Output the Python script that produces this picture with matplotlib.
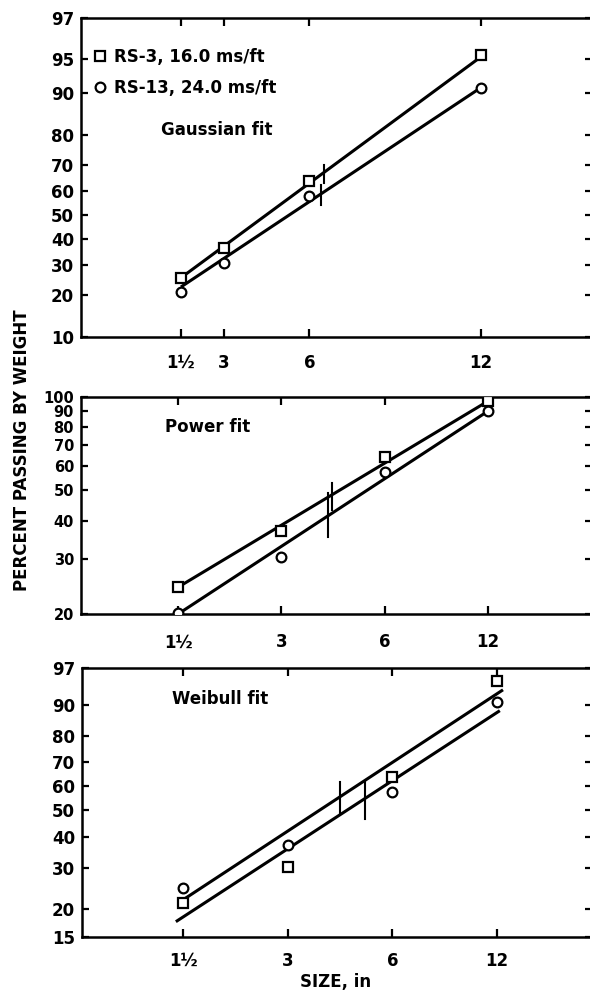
from statistics import NormalDist
import numpy as np
import matplotlib
matplotlib.use('Agg')
import matplotlib.pyplot as plt
from matplotlib.ticker import FixedLocator, NullLocator

plt.rcParams['font.family'] = ['DejaVu Sans']
plt.rcParams['font.weight'] = 'bold'

FS = 12

# sizes (in) and their labels
sizes = [1.5, 3, 6, 12]
size_labels = ['1½', '3', '6', '12']

# percent passing
gauss_rs3 = [25.5, 36.5, 64.0, 95.4]
gauss_rs13 = [21.0, 30.7, 58.0, 91.0]
power_rs3 = [24.4, 36.9, 64.2, 96.8]
power_rs13 = [20.2, 30.6, 57.5, 90.3]
weib_rs3 = [21.2, 30.2, 63.7, 95.2]
weib_rs13 = [24.7, 37.1, 57.4, 90.8]

# fitted lines: (x ends, y ends)
gauss_fit_rs3 = ([1.5, 12], [25.5, 95.2])
gauss_fit_rs13 = ([1.5, 12], [22.5, 91.0])
power_fit_rs3 = ([1.5, 12], [24.4, 97.0])
power_fit_rs13 = ([1.5, 12], [20.0, 90.1])
weib_fit_a = ([1.52, 12.48], [22.3, 93.5])
weib_fit_b = ([1.43, 12.22], [17.6, 88.4])

# short vertical marks on the fit lines: x, y low, y high
gauss_marks = ([6.5, 6.4], [63.4, 54.4], [70.3, 62.6])
power_marks = ([4.2, 4.1], [43.3, 35.4], [52.9, 49.1])
weib_marks = ([4.25, 5.02], [48.7, 46.4], [61.6, 61.6])

gauss_yticks = [10, 20, 30, 40, 50, 60, 70, 80, 90, 95]
power_yticks = [20, 30, 40, 50, 60, 70, 80, 90, 100]
weib_yticks = [15, 20, 30, 40, 50, 60, 70, 80, 90, 97]

ND = NormalDist()
_ppf = np.vectorize(ND.inv_cdf, otypes=[float])
_cdf = np.vectorize(ND.cdf, otypes=[float])


def norm_fwd(p):
    p = np.clip(np.asarray(p, float) / 100, 1e-9, 1 - 1e-9)
    return _ppf(p)


def norm_inv(z):
    return _cdf(np.asarray(z, float)) * 100


def weib_fwd(p):
    p = np.clip(np.asarray(p, float) / 100, 1e-9, 1 - 1e-9)
    return np.log(-np.log(1 - p))


def weib_inv(y):
    return (1 - np.exp(-np.exp(np.asarray(y, float)))) * 100


def style_axes(ax, pad_x, ysize=FS):
    for s in ax.spines.values():
        s.set_linewidth(1.8)
    ax.tick_params(axis='x', which='major', direction='in', length=6,
                   width=1.6, top=True, bottom=True, labelsize=FS,
                   pad=pad_x)
    ax.tick_params(axis='y', which='major', direction='in', length=5,
                   width=1.6, left=True, right=True, labelsize=ysize, pad=5)
    ax.tick_params(which='minor', left=False, right=False,
                   top=False, bottom=False)


def draw_panel(ax, rs3, rs13, fits, marks):
    for fx, fy in fits:
        ax.plot(fx, fy, color='black', lw=2.2, solid_capstyle='butt',
                zorder=2)
    for mx, lo, hi in zip(*marks):
        ax.plot([mx, mx], [lo, hi], color='black', lw=1.5, zorder=2)
    ax.plot(sizes, rs3, ls='none', marker='s', ms=6.5, mfc='white',
            mec='black', mew=1.6, zorder=3, label='RS-3, 16.0 ms/ft')
    ax.plot(sizes, rs13, ls='none', marker='o', ms=7, mfc='white',
            mec='black', mew=1.6, zorder=3, label='RS-13, 24.0 ms/ft')


fig = plt.figure(figsize=(5.9, 9.98), dpi=100)

# Gaussian fit: linear size vs normal probability
ax1 = fig.add_axes([81 / 590, 1 - 337 / 998, 511 / 590, 319 / 998])
ax1.set_yscale('function', functions=(norm_fwd, norm_inv))
draw_panel(ax1, gauss_rs3, gauss_rs13,
           [gauss_fit_rs3, gauss_fit_rs13], gauss_marks)
ax1.set_xlim(-2.0, 15.9)
ax1.set_ylim(10, 98.1)
ax1.yaxis.set_major_locator(FixedLocator(gauss_yticks + [98.1]))
ax1.set_yticklabels([str(v) for v in gauss_yticks] + ['97'])
ax1.yaxis.set_minor_locator(NullLocator())
ax1.set_xticks(sizes)
ax1.set_xticklabels(size_labels)
style_axes(ax1, 12)
ax1.text(0.266, 0.649, 'Gaussian fit', transform=ax1.transAxes,
         fontsize=FS, ha='center', va='center')
ax1.legend(loc='upper left', bbox_to_anchor=(0.008, 0.938), frameon=False,
           fontsize=FS, handlelength=0.6, handletextpad=0.55,
           labelspacing=0.8, borderaxespad=0.2)

# Power fit: log size vs log percent
ax2 = fig.add_axes([81 / 590, 1 - 614 / 998, 511 / 590, 217 / 998])
ax2.set_xscale('log')
ax2.set_yscale('log')
draw_panel(ax2, power_rs3, power_rs13,
           [power_fit_rs3, power_fit_rs13], power_marks)
ax2.set_xlim(0.782, 24.1)
ax2.set_ylim(20, 100)
ax2.xaxis.set_major_locator(FixedLocator(sizes))
ax2.xaxis.set_minor_locator(NullLocator())
ax2.set_xticklabels(size_labels)
ax2.yaxis.set_major_locator(FixedLocator(power_yticks))
ax2.yaxis.set_minor_locator(NullLocator())
ax2.set_yticklabels([str(v) for v in power_yticks])
style_axes(ax2, 14, ysize=10.5)
ax2.text(0.247, 0.862, 'Power fit', transform=ax2.transAxes,
         fontsize=FS, ha='center', va='center')

# Weibull fit: log size vs log(-log(1-P))
ax3 = fig.add_axes([82 / 590, 1 - 937 / 998, 510 / 590, 269 / 998])
ax3.set_xscale('log')
ax3.set_yscale('function', functions=(weib_fwd, weib_inv))
draw_panel(ax3, weib_rs3, weib_rs13, [weib_fit_a, weib_fit_b], weib_marks)
ax3.set_xlim(0.768, 22.5)
ax3.set_ylim(15, 97)
ax3.xaxis.set_major_locator(FixedLocator(sizes))
ax3.xaxis.set_minor_locator(NullLocator())
ax3.set_xticklabels(size_labels)
ax3.yaxis.set_major_locator(FixedLocator(weib_yticks))
ax3.yaxis.set_minor_locator(NullLocator())
ax3.set_yticklabels([str(v) for v in weib_yticks])
style_axes(ax3, 11)
ax3.text(0.27, 0.885, 'Weibull fit', transform=ax3.transAxes,
         fontsize=FS, ha='center', va='center')

fig.text(0.037, 0.549, 'PERCENT PASSING BY WEIGHT', rotation=90,
         ha='center', va='center', fontsize=FS)
fig.text(336 / 590, 0.016, 'SIZE, in', ha='center', va='center',
         fontsize=FS)

fig.savefig('out.png', dpi=100)
